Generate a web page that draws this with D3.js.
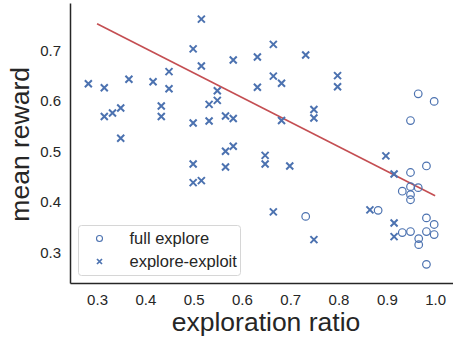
<!DOCTYPE html>
<html>
<head>
<meta charset="utf-8">
<script src="https://cdn.jsdelivr.net/npm/d3@7"></script>
<style>
  body { margin: 0; background: #fff; }
  text { font-family: "Liberation Sans", Arial, sans-serif; fill: #262626; }
</style>
</head>
<body>
<script>
// explore-exploit runs (x markers)
const eeRatio = [0.282, 0.315, 0.366, 0.416, 0.449, 0.449, 0.516, 0.499, 0.516, 0.582,
  0.632, 0.632, 0.549, 0.549, 0.532, 0.315, 0.332, 0.349, 0.433, 0.433,
  0.349, 0.499, 0.532, 0.566, 0.582, 0.566, 0.582, 0.665, 0.732, 0.665,
  0.682, 0.798, 0.798, 0.749, 0.749, 0.682, 0.648, 0.898, 0.499, 0.499,
  0.516, 0.566, 0.648, 0.699, 0.915, 0.665, 0.749, 0.865, 0.915, 0.915];
const eeReward = [0.634, 0.626, 0.643, 0.638, 0.658, 0.624, 0.762, 0.703, 0.669, 0.681,
  0.687, 0.627, 0.620, 0.601, 0.593, 0.569, 0.576, 0.586, 0.590, 0.569,
  0.526, 0.556, 0.560, 0.570, 0.565, 0.500, 0.510, 0.712, 0.691, 0.649,
  0.635, 0.650, 0.628, 0.583, 0.566, 0.561, 0.492, 0.491, 0.475, 0.438,
  0.442, 0.469, 0.475, 0.471, 0.455, 0.380, 0.325, 0.384, 0.358, 0.331];

// full explore runs (circles)
const feRatio = [0.965, 0.998, 0.949, 0.949, 0.982, 0.932, 0.949, 0.965, 0.949, 0.949,
  0.732, 0.882, 0.932, 0.949, 0.982, 0.998, 0.982, 0.998, 0.966, 0.966, 0.982];
const feReward = [0.614, 0.599, 0.561, 0.458, 0.471, 0.421, 0.430, 0.428, 0.414, 0.404,
  0.371, 0.383, 0.339, 0.341, 0.368, 0.355, 0.341, 0.335, 0.327, 0.315, 0.276];

// fitted trend line
const fitX = [0.3, 1.0];
const fitY = [0.753, 0.412];

const xTicks = [0.3, 0.4, 0.5, 0.6, 0.7, 0.8, 0.9, 1.0];
const yTicks = [0.3, 0.4, 0.5, 0.6, 0.7];

const W = 453, H = 341;
const blue = '#4c72b0', red = '#c44e52';

const svg = d3.select('body').append('svg')
  .attr('width', W).attr('height', H);

const x = d3.scaleLinear().domain([0.244, 1.037]).range([70, 453]);
const y = d3.scaleLinear().domain([0.239, 0.794]).range([283, 3]);

// axes (seaborn white style: no ticks, left + bottom spines)
const xAxis = svg.append('g')
  .attr('transform', `translate(0,${y.range()[0]})`)
  .call(d3.axisBottom(x).tickValues(xTicks).tickSize(0).tickSizeOuter(0)
    .tickPadding(11).tickFormat(d3.format('.1f')));
const yAxis = svg.append('g')
  .attr('transform', `translate(${x.range()[0]},0)`)
  .call(d3.axisLeft(y).tickValues(yTicks).tickSize(0).tickSizeOuter(0)
    .tickPadding(9).tickFormat(d3.format('.1f')));

[xAxis, yAxis].forEach(a => {
  a.select('.domain').attr('stroke', '#262626').attr('stroke-width', 1.5);
  a.selectAll('text')
    .style('font-family', '"Liberation Sans", Arial, sans-serif')
    .style('font-size', '15px').attr('fill', '#262626');
});

// axis titles
svg.append('text')
  .attr('x', (97 + 435) / 2).attr('y', 331)
  .attr('text-anchor', 'middle')
  .style('font-size', '26.5px')
  .text('exploration ratio');

svg.append('text')
  .attr('transform', `translate(29,${y(0.5) - 7}) rotate(-90)`)
  .attr('text-anchor', 'middle')
  .style('font-size', '26.5px')
  .text('mean reward');

// trend line
svg.append('path')
  .datum(fitX.map((d, i) => [d, fitY[i]]))
  .attr('fill', 'none').attr('stroke', red).attr('stroke-width', 1.6)
  .attr('d', d3.line().x(d => x(d[0])).y(d => y(d[1])));

// full explore circles
svg.append('g').selectAll('circle')
  .data(feRatio.map((d, i) => [d, feReward[i]]))
  .join('circle')
  .attr('cx', d => x(d[0])).attr('cy', d => y(d[1]))
  .attr('r', 3.8)
  .attr('fill', 'none').attr('stroke', blue).attr('stroke-width', 1.2);

// explore-exploit crosses
const s = 3.5;
svg.append('g').selectAll('path')
  .data(eeRatio.map((d, i) => [d, eeReward[i]]))
  .join('path')
  .attr('transform', d => `translate(${x(d[0])},${y(d[1])})`)
  .attr('d', `M${-s},${-s}L${s},${s}M${-s},${s}L${s},${-s}`)
  .attr('stroke', blue).attr('stroke-width', 2).attr('fill', 'none');

// legend
const lg = svg.append('g');
lg.append('rect')
  .attr('x', 78.5).attr('y', 225.5).attr('width', 162).attr('height', 50)
  .attr('rx', 3)
  .attr('fill', '#fff').attr('fill-opacity', 0.8)
  .attr('stroke', '#d6d6d6').attr('stroke-width', 1);
lg.append('circle')
  .attr('cx', 99.5).attr('cy', 238.5).attr('r', 3)
  .attr('fill', 'none').attr('stroke', blue).attr('stroke-width', 1.1);
const ls = 2.5;
lg.append('path')
  .attr('transform', 'translate(99.5,261.5)')
  .attr('d', `M${-ls},${-ls}L${ls},${ls}M${-ls},${ls}L${ls},${-ls}`)
  .attr('stroke', blue).attr('stroke-width', 1.7);
lg.append('text').attr('x', 129.5).attr('y', 244)
  .style('font-size', '16.5px').text('full explore');
lg.append('text').attr('x', 129.5).attr('y', 267)
  .style('font-size', '16.5px').text('explore-exploit');
</script>
</body>
</html>
